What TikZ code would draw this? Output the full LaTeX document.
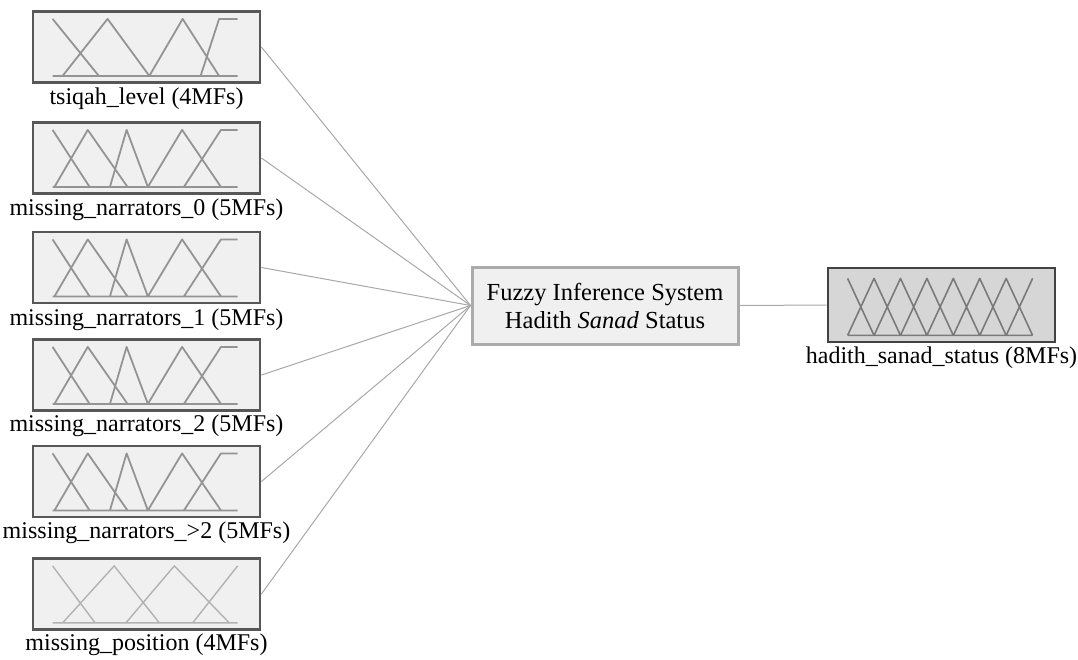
\documentclass[tikz,border=0pt]{standalone}
\usepackage{fontspec}
\setmainfont{Liberation Serif}
\usetikzlibrary{positioning}

% membership functions inside a variable box: node, style, path
\newcommand{\mfshapes}[3]{%
  \begin{scope}[shift={(#1.south west)}, xshift=21pt, yshift=8pt, x=185pt, y=57pt]
    \draw[#2] (0,0) -- (1,0) #3;
  \end{scope}}

\begin{document}
\begin{tikzpicture}[x=1pt, y=-1pt,
    mfbox/.style={draw=black!66, line width=2.8pt, fill=black!6, minimum width=227pt, minimum height=71pt, inner sep=0pt},
    outbox/.style={mfbox, draw=black!74, fill=black!16, minimum height=74pt},
    fisbox/.style={draw=black!33, line width=3pt, fill=black!6, minimum width=266pt, minimum height=77pt, align=center, font=\fontsize{24.5}{28}\selectfont},
    varlabel/.style={inner sep=1pt, font=\fontsize{24}{28}\selectfont},
    mfline/.style={black!42, line width=1.8pt, line join=round},
    mflight/.style={black!30, line width=1.4pt, line join=round},
    mfdark/.style={black!52, line width=1.6pt, line join=round},
    link/.style={black!34, line width=1pt}]
    \useasboundingbox (0,0) rectangle (1078,659);

    % input variables
    \node[mfbox] (tsiqah) at (146.5,47) {};
    \node[varlabel, below=3pt of tsiqah] (tsiqahlbl) {tsiqah\_level (4MFs)};
    \node[mfbox] (mnzero) at (146.5,158) {};
    \node[varlabel, below=3pt of mnzero] (mnzerolbl) {missing\_narrators\_0 (5MFs)};
    \node[mfbox] (mnone) at (146.5,267.5) {};
    \node[varlabel, below=3pt of mnone] (mnonelbl) {missing\_narrators\_1 (5MFs)};
    \node[mfbox] (mntwo) at (146.5,375) {};
    \node[varlabel, below=2pt of mntwo] (mntwolbl) {missing\_narrators\_2 (5MFs)};
    \node[mfbox] (mnmore) at (146.5,481.5) {};
    \node[varlabel, below=2pt of mnmore] (mnmorelbl) {missing\_narrators\_>2 (5MFs)};
    \node[mfbox] (mpos) at (146.5,594) {};
    \node[varlabel, below=2pt of mpos] (mposlbl) {missing\_position (4MFs)};

    % inference system and output
    \node[fisbox] (fis) at (605,305.5) {Fuzzy Inference System\\Hadith \textit{Sanad} Status};
    \node[outbox] (status) at (941.5,305) {};
    \node[varlabel, below=2pt of status] (statuslbl) {hadith\_sanad\_status (8MFs)};

    % membership functions
    \mfshapes{tsiqah}{mfline}{(0,1) -- (0.25,0) (0.054,0) -- (0.297,1) -- (0.523,0) (0.523,0) -- (0.703,1) -- (0.9,0) (0.8,0) -- (0.9,1) -- (1,1)}
    \foreach \n in {mnzero,mnone,mntwo,mnmore}
        \mfshapes{\n}{mfline}{(0,1) -- (0.2,0) (0.01,0) -- (0.19,1) -- (0.405,0) (0.31,0) -- (0.4,1) -- (0.515,0) (0.515,0) -- (0.7,1) -- (0.91,0) (0.71,0) -- (0.91,1) -- (1,1)};
    \mfshapes{mpos}{mflight}{(0,1) -- (0.23,0) (0.054,0) -- (0.333,1) -- (0.577,0) (0.396,0) -- (0.658,1) -- (0.955,0) (0.757,0) -- (1,1)}
    \mfshapes{status}{mfdark}{(0,1) -- (1/7,0) foreach \i in {1,...,6} {({(\i-1)/7},0) -- ({\i/7},1) -- ({(\i+1)/7},0)} (6/7,0) -- (1,1)}

    % connectors
    \foreach \n in {tsiqah,mnzero,mnone,mntwo,mnmore,mpos}
        \draw[link] (\n.east) -- (fis.west);
    \draw[link] (fis.east) -- (status.west);
\end{tikzpicture}
\end{document}
